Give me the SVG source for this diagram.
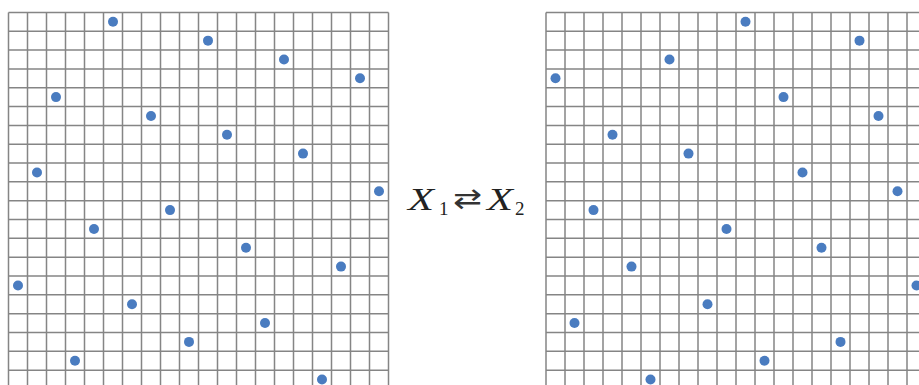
<svg xmlns="http://www.w3.org/2000/svg" xmlns:xlink="http://www.w3.org/1999/xlink" width="919" height="385" viewBox="0 0 919 385">
  <style>
    .grid { fill: none; stroke: #858585; stroke-width: 1.5; }
    .dot { fill: #4a7cc0; }
    .math { font-family: "Liberation Serif", "DejaVu Serif", serif; fill: #222; }
    .it { font-style: italic; font-size: 31px; }
    .sub { font-size: 19px; }
    .arrow { font-family: "DejaVu Sans", sans-serif; font-size: 28px; fill: #333; }
  </style>
  <defs>
    <path id="gridlines" class="grid" d="M0 0V377M19 0V377M38 0V377M57 0V377M76 0V377M95 0V377M114 0V377M133 0V377M152 0V377M171 0V377M190 0V377M209 0V377M228 0V377M247 0V377M266 0V377M285 0V377M304 0V377M323 0V377M342 0V377M361 0V377M380 0V377
      M0 0H380M0 18.83H380M0 37.66H380M0 56.49H380M0 75.32H380M0 94.15H380M0 112.98H380M0 131.81H380M0 150.64H380M0 169.47H380M0 188.3H380M0 207.13H380M0 225.96H380M0 244.79H380M0 263.62H380M0 282.45H380M0 301.28H380M0 320.11H380M0 338.94H380M0 357.77H380"/>
  </defs>
  <g id="left-grid">
    <use xlink:href="#gridlines" href="#gridlines" transform="translate(8.5,12.4)"/>
    <g id="left-points">
      <circle class="dot" cx="113" cy="21.8" r="5"/>
      <circle class="dot" cx="208" cy="40.63" r="5"/>
      <circle class="dot" cx="284" cy="59.46" r="5"/>
      <circle class="dot" cx="360" cy="78.29" r="5"/>
      <circle class="dot" cx="56" cy="97.12" r="5"/>
      <circle class="dot" cx="151" cy="115.95" r="5"/>
      <circle class="dot" cx="227" cy="134.78" r="5"/>
      <circle class="dot" cx="303" cy="153.61" r="5"/>
      <circle class="dot" cx="37" cy="172.44" r="5"/>
      <circle class="dot" cx="379" cy="191.27" r="5"/>
      <circle class="dot" cx="170" cy="210.1" r="5"/>
      <circle class="dot" cx="94" cy="228.93" r="5"/>
      <circle class="dot" cx="246" cy="247.76" r="5"/>
      <circle class="dot" cx="341" cy="266.59" r="5"/>
      <circle class="dot" cx="18" cy="285.42" r="5"/>
      <circle class="dot" cx="132" cy="304.25" r="5"/>
      <circle class="dot" cx="265" cy="323.08" r="5"/>
      <circle class="dot" cx="189" cy="341.91" r="5"/>
      <circle class="dot" cx="75" cy="360.74" r="5"/>
      <circle class="dot" cx="322" cy="379.57" r="5"/>
    </g>
  </g>
  <g id="right-grid">
    <use xlink:href="#gridlines" href="#gridlines" transform="translate(546,12.4)"/>
    <g id="right-points">
      <circle class="dot" cx="745.5" cy="21.8" r="5"/>
      <circle class="dot" cx="859.5" cy="40.63" r="5"/>
      <circle class="dot" cx="669.5" cy="59.46" r="5"/>
      <circle class="dot" cx="555.5" cy="78.29" r="5"/>
      <circle class="dot" cx="783.5" cy="97.12" r="5"/>
      <circle class="dot" cx="878.5" cy="115.95" r="5"/>
      <circle class="dot" cx="612.5" cy="134.78" r="5"/>
      <circle class="dot" cx="688.5" cy="153.61" r="5"/>
      <circle class="dot" cx="802.5" cy="172.44" r="5"/>
      <circle class="dot" cx="897.5" cy="191.27" r="5"/>
      <circle class="dot" cx="593.5" cy="210.1" r="5"/>
      <circle class="dot" cx="726.5" cy="228.93" r="5"/>
      <circle class="dot" cx="821.5" cy="247.76" r="5"/>
      <circle class="dot" cx="631.5" cy="266.59" r="5"/>
      <circle class="dot" cx="916.5" cy="285.42" r="5"/>
      <circle class="dot" cx="707.5" cy="304.25" r="5"/>
      <circle class="dot" cx="574.5" cy="323.08" r="5"/>
      <circle class="dot" cx="840.5" cy="341.91" r="5"/>
      <circle class="dot" cx="764.5" cy="360.74" r="5"/>
      <circle class="dot" cx="650.5" cy="379.57" r="5"/>
    </g>
  </g>
  <g id="label" class="math">
    <text class="it" x="408" y="210" textLength="26" lengthAdjust="spacingAndGlyphs">X</text>
    <text class="sub" x="439" y="215">1</text>
    <text class="arrow" x="453" y="208" textLength="29" lengthAdjust="spacingAndGlyphs">⇄</text>
    <text class="it" x="487" y="210" textLength="26" lengthAdjust="spacingAndGlyphs">X</text>
    <text class="sub" x="515" y="215">2</text>
  </g>
</svg>
